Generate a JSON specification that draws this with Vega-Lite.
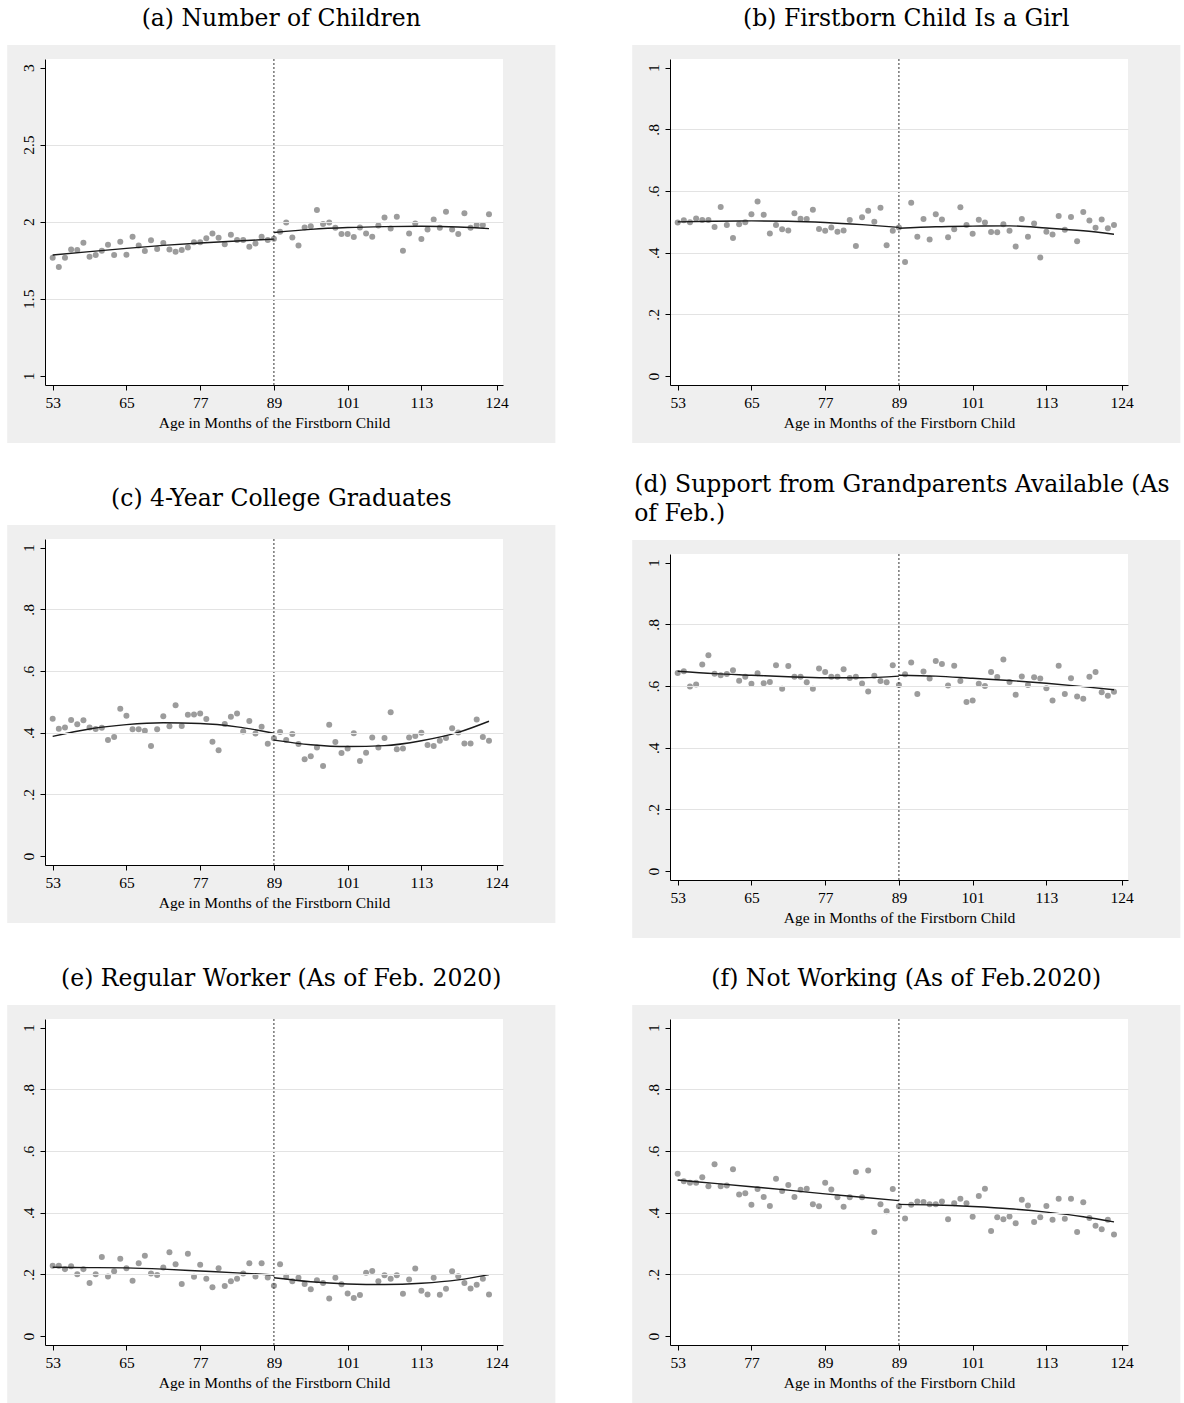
{
"$schema": "https://vega.github.io/schema/vega-lite/v6.json",
"background": "white",
"padding": {"left": 7, "top": 7, "right": 0, "bottom": 0},
"columns": 2,
"align": "none",
"spacing": {"row": 29, "column": 76},
"datasets": {
"pts": [
{"m":53,"a":1.766,"b":0.498,"c":0.445,"d":0.642,"e":0.228,"f":0.526},
{"m":54,"a":1.706,"b":0.505,"c":0.413,"d":0.648,"e":0.228,"f":0.502},
{"m":55,"a":1.766,"b":0.499,"c":0.417,"d":0.598,"e":0.217,"f":0.497},
{"m":56,"a":1.820,"b":0.511,"c":0.441,"d":0.605,"e":0.226,"f":0.497},
{"m":57,"a":1.816,"b":0.506,"c":0.427,"d":0.670,"e":0.200,"f":0.515},
{"m":58,"a":1.864,"b":0.506,"c":0.440,"d":0.700,"e":0.217,"f":0.486},
{"m":59,"a":1.773,"b":0.483,"c":0.417,"d":0.640,"e":0.172,"f":0.557},
{"m":60,"a":1.784,"b":0.548,"c":0.412,"d":0.635,"e":0.200,"f":0.486},
{"m":61,"a":1.812,"b":0.490,"c":0.416,"d":0.639,"e":0.256,"f":0.488},
{"m":62,"a":1.851,"b":0.448,"c":0.376,"d":0.651,"e":0.193,"f":0.541},
{"m":63,"a":1.784,"b":0.492,"c":0.386,"d":0.617,"e":0.210,"f":0.459},
{"m":64,"a":1.870,"b":0.499,"c":0.478,"d":0.630,"e":0.251,"f":0.463},
{"m":65,"a":1.786,"b":0.525,"c":0.455,"d":0.607,"e":0.220,"f":0.426},
{"m":66,"a":1.903,"b":0.566,"c":0.411,"d":0.641,"e":0.179,"f":0.477},
{"m":67,"a":1.846,"b":0.523,"c":0.411,"d":0.609,"e":0.236,"f":0.451},
{"m":68,"a":1.810,"b":0.462,"c":0.406,"d":0.613,"e":0.260,"f":0.422},
{"m":69,"a":1.879,"b":0.490,"c":0.357,"d":0.667,"e":0.203,"f":0.510},
{"m":70,"a":1.823,"b":0.476,"c":0.411,"d":0.591,"e":0.198,"f":0.470},
{"m":71,"a":1.861,"b":0.472,"c":0.453,"d":0.665,"e":0.222,"f":0.490},
{"m":72,"a":1.820,"b":0.528,"c":0.421,"d":0.630,"e":0.272,"f":0.451},
{"m":73,"a":1.805,"b":0.510,"c":0.489,"d":0.630,"e":0.233,"f":0.474},
{"m":74,"a":1.816,"b":0.509,"c":0.422,"d":0.612,"e":0.169,"f":0.478},
{"m":75,"a":1.833,"b":0.539,"c":0.458,"d":0.591,"e":0.267,"f":0.427},
{"m":76,"a":1.866,"b":0.477,"c":0.459,"d":0.657,"e":0.192,"f":0.421},
{"m":77,"a":1.866,"b":0.471,"c":0.462,"d":0.645,"e":0.231,"f":0.497},
{"m":78,"a":1.892,"b":0.482,"c":0.444,"d":0.630,"e":0.186,"f":0.475},
{"m":79,"a":1.924,"b":0.468,"c":0.371,"d":0.630,"e":0.158,"f":0.450},
{"m":80,"a":1.896,"b":0.472,"c":0.343,"d":0.654,"e":0.220,"f":0.419},
{"m":81,"a":1.853,"b":0.506,"c":0.428,"d":0.626,"e":0.162,"f":0.450},
{"m":82,"a":1.916,"b":0.422,"c":0.452,"d":0.630,"e":0.178,"f":0.532},
{"m":83,"a":1.881,"b":0.515,"c":0.462,"d":0.608,"e":0.186,"f":0.450},
{"m":84,"a":1.881,"b":0.536,"c":0.404,"d":0.582,"e":0.203,"f":0.537},
{"m":85,"a":1.838,"b":0.500,"c":0.438,"d":0.633,"e":0.236,"f":0.337},
{"m":86,"a":1.859,"b":0.546,"c":0.397,"d":0.616,"e":0.193,"f":0.427},
{"m":87,"a":1.903,"b":0.424,"c":0.419,"d":0.612,"e":0.236,"f":0.405},
{"m":88,"a":1.881,"b":0.471,"c":0.364,"d":0.667,"e":0.190,"f":0.477},
{"m":89,"a":1.890,"b":0.482,"c":0.382,"d":0.603,"e":0.163,"f":0.421},
{"m":90,"a":1.935,"b":0.370,"c":0.402,"d":0.638,"e":0.233,"f":0.381},
{"m":91,"a":1.994,"b":0.562,"c":0.376,"d":0.676,"e":0.192,"f":0.426},
{"m":92,"a":1.898,"b":0.452,"c":0.396,"d":0.574,"e":0.178,"f":0.436},
{"m":93,"a":1.846,"b":0.509,"c":0.363,"d":0.647,"e":0.189,"f":0.435},
{"m":94,"a":1.963,"b":0.443,"c":0.314,"d":0.624,"e":0.169,"f":0.427},
{"m":95,"a":1.970,"b":0.525,"c":0.324,"d":0.681,"e":0.152,"f":0.427},
{"m":96,"a":2.076,"b":0.508,"c":0.352,"d":0.671,"e":0.181,"f":0.436},
{"m":97,"a":1.985,"b":0.450,"c":0.292,"d":0.602,"e":0.172,"f":0.379},
{"m":98,"a":1.994,"b":0.476,"c":0.426,"d":0.666,"e":0.122,"f":0.431},
{"m":99,"a":1.961,"b":0.547,"c":0.370,"d":0.616,"e":0.189,"f":0.445},
{"m":100,"a":1.920,"b":0.490,"c":0.334,"d":0.548,"e":0.168,"f":0.431},
{"m":101,"a":1.920,"b":0.461,"c":0.349,"d":0.553,"e":0.138,"f":0.387},
{"m":102,"a":1.900,"b":0.507,"c":0.398,"d":0.607,"e":0.123,"f":0.454},
{"m":103,"a":1.963,"b":0.498,"c":0.308,"d":0.600,"e":0.133,"f":0.478},
{"m":104,"a":1.924,"b":0.467,"c":0.335,"d":0.645,"e":0.205,"f":0.341},
{"m":105,"a":1.903,"b":0.466,"c":0.384,"d":0.629,"e":0.211,"f":0.385},
{"m":106,"a":1.976,"b":0.492,"c":0.352,"d":0.686,"e":0.178,"f":0.379},
{"m":107,"a":2.028,"b":0.471,"c":0.383,"d":0.613,"e":0.197,"f":0.388},
{"m":108,"a":1.955,"b":0.420,"c":0.466,"d":0.572,"e":0.186,"f":0.366},
{"m":109,"a":2.032,"b":0.509,"c":0.346,"d":0.631,"e":0.197,"f":0.442},
{"m":110,"a":1.812,"b":0.452,"c":0.349,"d":0.603,"e":0.137,"f":0.423},
{"m":111,"a":1.924,"b":0.495,"c":0.384,"d":0.628,"e":0.183,"f":0.370},
{"m":112,"a":1.989,"b":0.384,"c":0.389,"d":0.624,"e":0.219,"f":0.385},
{"m":113,"a":1.887,"b":0.468,"c":0.400,"d":0.593,"e":0.147,"f":0.422},
{"m":114,"a":1.950,"b":0.459,"c":0.360,"d":0.553,"e":0.135,"f":0.377},
{"m":115,"a":2.015,"b":0.519,"c":0.357,"d":0.666,"e":0.189,"f":0.445},
{"m":116,"a":1.961,"b":0.474,"c":0.374,"d":0.574,"e":0.134,"f":0.380},
{"m":117,"a":2.065,"b":0.516,"c":0.383,"d":0.625,"e":0.153,"f":0.445},
{"m":118,"a":1.950,"b":0.437,"c":0.414,"d":0.566,"e":0.210,"f":0.337},
{"m":119,"a":1.920,"b":0.532,"c":0.401,"d":0.559,"e":0.194,"f":0.434},
{"m":120,"a":2.054,"b":0.504,"c":0.365,"d":0.630,"e":0.172,"f":0.383},
{"m":121,"a":1.961,"b":0.481,"c":0.365,"d":0.645,"e":0.154,"f":0.358},
{"m":122,"a":1.978,"b":0.508,"c":0.443,"d":0.580,"e":0.166,"f":0.346},
{"m":123,"a":1.978,"b":0.479,"c":0.386,"d":0.568,"e":0.186,"f":0.377},
{"m":124,"a":2.048,"b":0.490,"c":0.374,"d":0.581,"e":0.135,"f":0.329}
],
"fit": [
{"s":"L","m":53,"a":1.784,"b":0.500,"c":0.388,"d":0.648,"e":0.223,"f":0.506},
{"s":"L","m":59,"a":1.806,"b":0.502,"c":0.412,"d":0.640,"e":0.222,"f":0.495},
{"s":"L","m":65,"a":1.827,"b":0.503,"c":0.426,"d":0.635,"e":0.221,"f":0.484},
{"s":"L","m":71,"a":1.846,"b":0.502,"c":0.432,"d":0.630,"e":0.217,"f":0.473},
{"s":"L","m":77,"a":1.862,"b":0.498,"c":0.430,"d":0.627,"e":0.211,"f":0.461},
{"s":"L","m":83,"a":1.875,"b":0.491,"c":0.419,"d":0.627,"e":0.205,"f":0.450},
{"s":"L","m":89,"a":1.887,"b":0.482,"c":0.398,"d":0.632,"e":0.198,"f":0.439},
{"s":"R","m":89,"a":1.930,"b":0.479,"c":0.376,"d":0.635,"e":0.189,"f":0.427},
{"s":"R","m":95,"a":1.950,"b":0.484,"c":0.361,"d":0.632,"e":0.176,"f":0.425},
{"s":"R","m":101,"a":1.962,"b":0.486,"c":0.355,"d":0.625,"e":0.169,"f":0.420},
{"s":"R","m":107,"a":1.968,"b":0.487,"c":0.358,"d":0.618,"e":0.167,"f":0.413},
{"s":"R","m":113,"a":1.970,"b":0.480,"c":0.374,"d":0.609,"e":0.171,"f":0.402},
{"s":"R","m":119,"a":1.966,"b":0.471,"c":0.401,"d":0.598,"e":0.182,"f":0.387},
{"s":"R","m":124,"a":1.955,"b":0.460,"c":0.437,"d":0.588,"e":0.199,"f":0.370}
]
},
"concat": [
{
"title": {"text": "(a) Number of Children"},
"width": 458, "height": 326,
"layer": [
{"data": {"values": [{}]}, "mark": {"type": "rect", "color": "#efefef"}, "encoding": {
"x": {"datum": 45.6, "type": "quantitative", "scale": {"domain": [51.75, 126.28], "nice": false, "zero": false}},
"x2": {"datum": 134.8},
"y": {"datum": 3.147, "type": "quantitative", "scale": {"domain": [0.94, 3.056], "nice": false, "zero": false}},
"y2": {"datum": 0.5635}}},
{"data": {"values": [{}]}, "mark": {"type": "rect", "color": "white"}, "encoding": {"x": {"datum": 51.75, "type": "quantitative"}, "x2": {"datum": 126.28}, "y": {"datum": 3.056, "type": "quantitative"}, "y2": {"datum": 0.94}}},
{"data": {"name": "pts"}, "mark": {"type": "circle", "color": "#9c9c9c", "opacity": 1, "size": 36}, "encoding": {
"x": {"field": "m", "type": "quantitative", "axis": {"zindex": 2, "values": [53,65,77,89,101,113,125.25], "labelExpr": "datum.value > 120 ? '124' : datum.value + ''", "title": "Age in Months of the Firstborn Child", "grid": false}},
"y": {"field": "a", "type": "quantitative", "axis": {"zindex": 2, "values": [1,1.5,2,2.5,3], "labelExpr": "datum.value + ''", "title": null, "grid": true, "gridColor": {"condition": {"test": "datum.value == 0 || datum.value == 1 || datum.value == 3", "value": "transparent"}, "value": "#e3e3e3"}}}}},
{"data": {"name": "fit"}, "mark": {"type": "line", "color": "#1a1a1a", "strokeWidth": 1.4, "interpolate": "monotone"}, "encoding": {"x": {"field": "m", "type": "quantitative"}, "y": {"field": "a", "type": "quantitative"}, "detail": {"field": "s"}}},
{"data": {"values": [{}]}, "mark": {"type": "rule", "color": "#333333", "strokeDash": [2, 2], "strokeWidth": 1}, "encoding": {"x": {"datum": 89, "type": "quantitative"}}}
]
},
{
"title": {"text": "(b) Firstborn Child Is a Girl"},
"width": 458, "height": 326,
"layer": [
{"data": {"values": [{}]}, "mark": {"type": "rect", "color": "#efefef"}, "encoding": {
"x": {"datum": 45.6, "type": "quantitative", "scale": {"domain": [51.75, 126.28], "nice": false, "zero": false}},
"x2": {"datum": 134.8},
"y": {"datum": 1.0734, "type": "quantitative", "scale": {"domain": [-0.029, 1.028], "nice": false, "zero": false}},
"y2": {"datum": -0.217}}},
{"data": {"values": [{}]}, "mark": {"type": "rect", "color": "white"}, "encoding": {"x": {"datum": 51.75, "type": "quantitative"}, "x2": {"datum": 126.28}, "y": {"datum": 1.028, "type": "quantitative"}, "y2": {"datum": -0.029}}},
{"data": {"name": "pts"}, "mark": {"type": "circle", "color": "#9c9c9c", "opacity": 1, "size": 36}, "encoding": {
"x": {"field": "m", "type": "quantitative", "axis": {"zindex": 2, "values": [53,65,77,89,101,113,125.25], "labelExpr": "datum.value > 120 ? '124' : datum.value + ''", "title": "Age in Months of the Firstborn Child", "grid": false}},
"y": {"field": "b", "type": "quantitative", "axis": {"zindex": 2, "values": [0,0.2,0.4,0.6,0.8,1], "labelExpr": "replace(datum.value + '', '0.', '.')", "title": null, "grid": true, "gridColor": {"condition": {"test": "datum.value == 0 || datum.value == 1", "value": "transparent"}, "value": "#e3e3e3"}}}}},
{"data": {"name": "fit"}, "mark": {"type": "line", "color": "#1a1a1a", "strokeWidth": 1.4, "interpolate": "monotone"}, "encoding": {"x": {"field": "m", "type": "quantitative"}, "y": {"field": "b", "type": "quantitative"}, "detail": {"field": "s"}}},
{"data": {"values": [{}]}, "mark": {"type": "rule", "color": "#333333", "strokeDash": [2, 2], "strokeWidth": 1}, "encoding": {"x": {"datum": 89, "type": "quantitative"}}}
]
},
{
"title": {"text": ["", "(c) 4-Year College Graduates"], "lineHeight": 14},
"width": 458, "height": 326,
"layer": [
{"data": {"values": [{}]}, "mark": {"type": "rect", "color": "#efefef"}, "encoding": {
"x": {"datum": 45.6, "type": "quantitative", "scale": {"domain": [51.75, 126.28], "nice": false, "zero": false}},
"x2": {"datum": 134.8},
"y": {"datum": 1.0734, "type": "quantitative", "scale": {"domain": [-0.029, 1.028], "nice": false, "zero": false}},
"y2": {"datum": -0.217}}},
{"data": {"values": [{}]}, "mark": {"type": "rect", "color": "white"}, "encoding": {"x": {"datum": 51.75, "type": "quantitative"}, "x2": {"datum": 126.28}, "y": {"datum": 1.028, "type": "quantitative"}, "y2": {"datum": -0.029}}},
{"data": {"name": "pts"}, "mark": {"type": "circle", "color": "#9c9c9c", "opacity": 1, "size": 36}, "encoding": {
"x": {"field": "m", "type": "quantitative", "axis": {"zindex": 2, "values": [53,65,77,89,101,113,125.25], "labelExpr": "datum.value > 120 ? '124' : datum.value + ''", "title": "Age in Months of the Firstborn Child", "grid": false}},
"y": {"field": "c", "type": "quantitative", "axis": {"zindex": 2, "values": [0,0.2,0.4,0.6,0.8,1], "labelExpr": "replace(datum.value + '', '0.', '.')", "title": null, "grid": true, "gridColor": {"condition": {"test": "datum.value == 0 || datum.value == 1", "value": "transparent"}, "value": "#e3e3e3"}}}}},
{"data": {"name": "fit"}, "mark": {"type": "line", "color": "#1a1a1a", "strokeWidth": 1.4, "interpolate": "monotone"}, "encoding": {"x": {"field": "m", "type": "quantitative"}, "y": {"field": "c", "type": "quantitative"}, "detail": {"field": "s"}}},
{"data": {"values": [{}]}, "mark": {"type": "rule", "color": "#333333", "strokeDash": [2, 2], "strokeWidth": 1}, "encoding": {"x": {"datum": 89, "type": "quantitative"}}}
]
},
{
"title": {"text": ["(d) Support from Grandparents Available (As", "of Feb.)"], "anchor": "start", "lineHeight": 29, "dx": 2},
"width": 458, "height": 326,
"layer": [
{"data": {"values": [{}]}, "mark": {"type": "rect", "color": "#efefef"}, "encoding": {
"x": {"datum": 45.6, "type": "quantitative", "scale": {"domain": [51.75, 126.28], "nice": false, "zero": false}},
"x2": {"datum": 134.8},
"y": {"datum": 1.0734, "type": "quantitative", "scale": {"domain": [-0.029, 1.028], "nice": false, "zero": false}},
"y2": {"datum": -0.217}}},
{"data": {"values": [{}]}, "mark": {"type": "rect", "color": "white"}, "encoding": {"x": {"datum": 51.75, "type": "quantitative"}, "x2": {"datum": 126.28}, "y": {"datum": 1.028, "type": "quantitative"}, "y2": {"datum": -0.029}}},
{"data": {"name": "pts"}, "mark": {"type": "circle", "color": "#9c9c9c", "opacity": 1, "size": 36}, "encoding": {
"x": {"field": "m", "type": "quantitative", "axis": {"zindex": 2, "values": [53,65,77,89,101,113,125.25], "labelExpr": "datum.value > 120 ? '124' : datum.value + ''", "title": "Age in Months of the Firstborn Child", "grid": false}},
"y": {"field": "d", "type": "quantitative", "axis": {"zindex": 2, "values": [0,0.2,0.4,0.6,0.8,1], "labelExpr": "replace(datum.value + '', '0.', '.')", "title": null, "grid": true, "gridColor": {"condition": {"test": "datum.value == 0 || datum.value == 1", "value": "transparent"}, "value": "#e3e3e3"}}}}},
{"data": {"name": "fit"}, "mark": {"type": "line", "color": "#1a1a1a", "strokeWidth": 1.4, "interpolate": "monotone"}, "encoding": {"x": {"field": "m", "type": "quantitative"}, "y": {"field": "d", "type": "quantitative"}, "detail": {"field": "s"}}},
{"data": {"values": [{}]}, "mark": {"type": "rule", "color": "#333333", "strokeDash": [2, 2], "strokeWidth": 1}, "encoding": {"x": {"datum": 89, "type": "quantitative"}}}
]
},
{
"title": {"text": ["", "(e) Regular Worker (As of Feb. 2020)"], "lineHeight": 15},
"width": 458, "height": 326,
"layer": [
{"data": {"values": [{}]}, "mark": {"type": "rect", "color": "#efefef"}, "encoding": {
"x": {"datum": 45.6, "type": "quantitative", "scale": {"domain": [51.75, 126.28], "nice": false, "zero": false}},
"x2": {"datum": 134.8},
"y": {"datum": 1.0734, "type": "quantitative", "scale": {"domain": [-0.029, 1.028], "nice": false, "zero": false}},
"y2": {"datum": -0.217}}},
{"data": {"values": [{}]}, "mark": {"type": "rect", "color": "white"}, "encoding": {"x": {"datum": 51.75, "type": "quantitative"}, "x2": {"datum": 126.28}, "y": {"datum": 1.028, "type": "quantitative"}, "y2": {"datum": -0.029}}},
{"data": {"name": "pts"}, "mark": {"type": "circle", "color": "#9c9c9c", "opacity": 1, "size": 36}, "encoding": {
"x": {"field": "m", "type": "quantitative", "axis": {"zindex": 2, "values": [53,65,77,89,101,113,125.25], "labelExpr": "datum.value > 120 ? '124' : datum.value + ''", "title": "Age in Months of the Firstborn Child", "grid": false}},
"y": {"field": "e", "type": "quantitative", "axis": {"zindex": 2, "values": [0,0.2,0.4,0.6,0.8,1], "labelExpr": "replace(datum.value + '', '0.', '.')", "title": null, "grid": true, "gridColor": {"condition": {"test": "datum.value == 0 || datum.value == 1", "value": "transparent"}, "value": "#e3e3e3"}}}}},
{"data": {"name": "fit"}, "mark": {"type": "line", "color": "#1a1a1a", "strokeWidth": 1.4, "interpolate": "monotone"}, "encoding": {"x": {"field": "m", "type": "quantitative"}, "y": {"field": "e", "type": "quantitative"}, "detail": {"field": "s"}}},
{"data": {"values": [{}]}, "mark": {"type": "rule", "color": "#333333", "strokeDash": [2, 2], "strokeWidth": 1}, "encoding": {"x": {"datum": 89, "type": "quantitative"}}}
]
},
{
"title": {"text": "(f) Not Working (As of Feb.2020)"},
"width": 458, "height": 326,
"layer": [
{"data": {"values": [{}]}, "mark": {"type": "rect", "color": "#efefef"}, "encoding": {
"x": {"datum": 45.6, "type": "quantitative", "scale": {"domain": [51.75, 126.28], "nice": false, "zero": false}},
"x2": {"datum": 134.8},
"y": {"datum": 1.0734, "type": "quantitative", "scale": {"domain": [-0.029, 1.028], "nice": false, "zero": false}},
"y2": {"datum": -0.217}}},
{"data": {"values": [{}]}, "mark": {"type": "rect", "color": "white"}, "encoding": {"x": {"datum": 51.75, "type": "quantitative"}, "x2": {"datum": 126.28}, "y": {"datum": 1.028, "type": "quantitative"}, "y2": {"datum": -0.029}}},
{"data": {"name": "pts"}, "mark": {"type": "circle", "color": "#9c9c9c", "opacity": 1, "size": 36}, "encoding": {
"x": {"field": "m", "type": "quantitative", "axis": {"zindex": 2, "values": [53,65,77,89,101,113,125.25], "labelExpr": "datum.value == 65 ? '77' : datum.value == 77 ? '89' : datum.value > 120 ? '124' : datum.value + ''", "title": "Age in Months of the Firstborn Child", "grid": false}},
"y": {"field": "f", "type": "quantitative", "axis": {"zindex": 2, "values": [0,0.2,0.4,0.6,0.8,1], "labelExpr": "replace(datum.value + '', '0.', '.')", "title": null, "grid": true, "gridColor": {"condition": {"test": "datum.value == 0 || datum.value == 1", "value": "transparent"}, "value": "#e3e3e3"}}}}},
{"data": {"name": "fit"}, "mark": {"type": "line", "color": "#1a1a1a", "strokeWidth": 1.4, "interpolate": "monotone"}, "encoding": {"x": {"field": "m", "type": "quantitative"}, "y": {"field": "f", "type": "quantitative"}, "detail": {"field": "s"}}},
{"data": {"values": [{}]}, "mark": {"type": "rule", "color": "#333333", "strokeDash": [2, 2], "strokeWidth": 1}, "encoding": {"x": {"datum": 89, "type": "quantitative"}}}
]
}
],
"config": {
"view": {"stroke": null},
"title": {"font": "DejaVu Serif", "fontSize": 23.5, "fontWeight": "normal", "color": "#000000", "offset": 14, "frame": "bounds", "anchor": "middle"},
"axis": {"labelFont": "Liberation Serif", "labelFontSize": 15.5, "labelColor": "#000000", "titleFont": "Liberation Serif", "titleFontSize": 15.5, "titleFontWeight": "normal", "titleColor": "#000000", "domainColor": "#000000", "tickColor": "#000000", "tickSize": 5, "labelOverlap": false, "labelFlush": false},
"axisX": {"labelPadding": 5, "titlePadding": 5, "labelAngle": 0},
"axisY": {"labelAngle": -90, "labelAlign": "center", "labelBaseline": "bottom", "labelPadding": 4}
}
}
